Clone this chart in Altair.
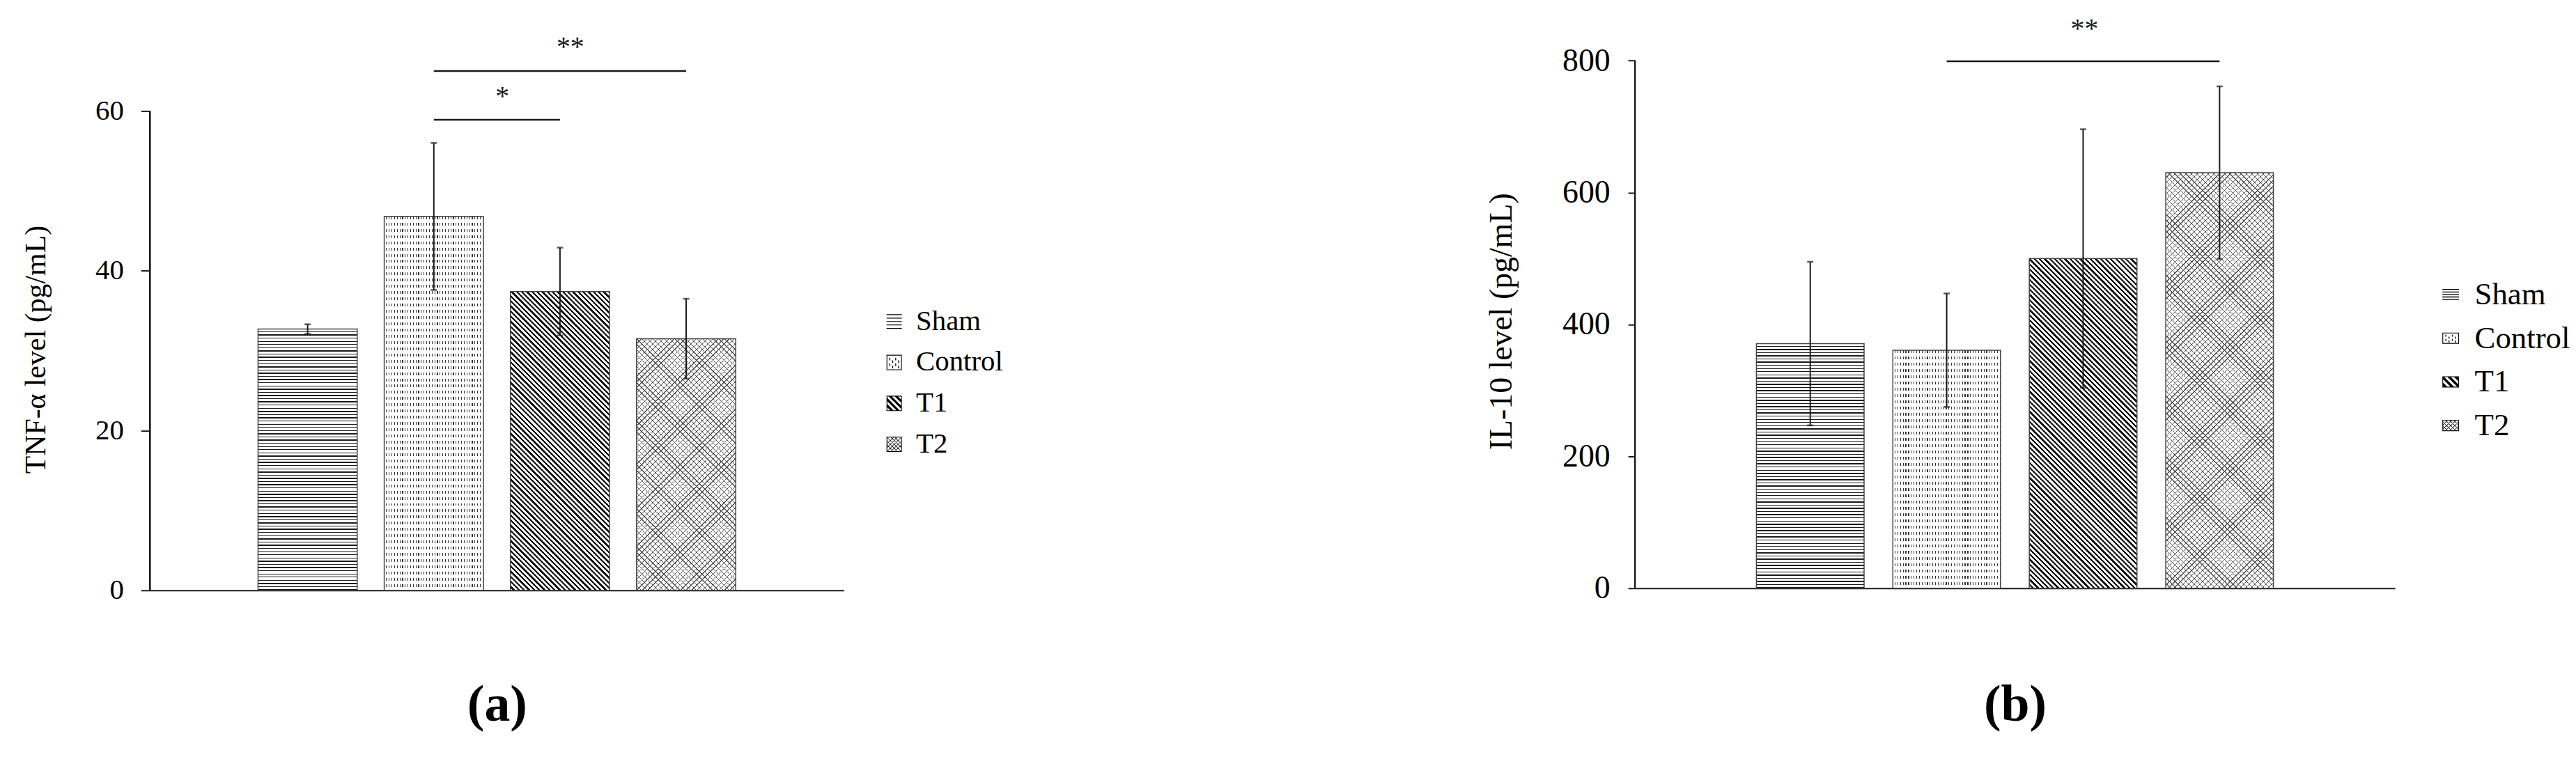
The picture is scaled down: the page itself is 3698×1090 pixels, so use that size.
import math
import altair as alt
import pandas as pd

# ---------------- data ----------------
groups = ["Sham", "Control", "T1", "T2"]

tnf_mean = [32.7, 46.8, 37.4, 31.5]
tnf_err = [0.6, 9.2, 5.5, 5.0]
tnf_ticks = [0, 20, 40, 60]
tnf_sig_label = ["*", "**"]
tnf_sig_from = ["Control", "Control"]
tnf_sig_to = ["T1", "T2"]
tnf_sig_y = [58.9, 65.0]
tnf_sig_text_y = [61.8, 68.0]

il10_mean = [371, 361, 500, 630]
il10_err = [124, 86, 196, 131]
il10_ticks = [0, 200, 400, 600, 800]
il10_sig_label = ["**"]
il10_sig_from = ["Control"]
il10_sig_to = ["T2"]
il10_sig_y = [799]
il10_sig_text_y = [848]

FONT = "Liberation Serif"
INK = "#1a1a1a"


# ---------------- pattern helpers ----------------
def stripe_stops(n, frac, dark, light):
    out = []
    for i in range(max(n, 1)):
        a = i / n
        b = (i + 1 - frac) / n
        c = (i + 1) / n
        out += [(a, light), (b, light), (b, dark), (c, dark)]
    return out


def grad(stops, x1, y1, x2, y2):
    return {
        "gradient": "linear",
        "x1": round(x1, 5), "y1": round(y1, 5), "x2": round(x2, 5), "y2": round(y2, 5),
        "stops": [{"offset": round(o, 5), "color": c} for o, c in stops],
    }


def hlines(h, period, frac, dark, light):
    return grad(stripe_stops(round(h / period), frac, dark, light), 0, 0, 0, 1)


def vlines(w, period, frac, dark, light):
    return grad(stripe_stops(round(w / period), frac, dark, light), 0, 0, 1, 0)


def backdiag(w, h, period, frac, dark, light):
    s = (w + h) / (w * w + h * h)
    n = round((w + h) / math.sqrt(2) / period)
    return grad(stripe_stops(n, frac, dark, light), 0, 1, s * w, 1 - s * h)


def fwddiag(w, h, period, frac, dark, light):
    s = (w + h) / (w * w + h * h)
    n = round((w + h) / math.sqrt(2) / period)
    return grad(stripe_stops(n, frac, dark, light), 0, 0, s * w, s * h)


CLEAR = "rgba(255,255,255,0)"


def bar_fills(g, w, h):
    if g == "Sham":
        return [hlines(h, 4.6, 0.3, INK, "white")]
    if g == "Control":
        return [vlines(w, 3.9, 0.3, "#333", "white"),
                hlines(h, 9.0, 5 / 9, "white", CLEAR)]
    if g == "T1":
        return [backdiag(w, h, 5.2, 0.45, "#111", "white")]
    return [backdiag(w, h, 5.6, 0.17, "#555", "white"),
            fwddiag(w, h, 5.6, 0.17, "#555", CLEAR)]


# ---------------- legend swatch paths ----------------
def fmt(v):
    return f"{v:.3f}".rstrip("0").rstrip(".")


def poly_path(pts):
    a = sum(pts[i][0] * pts[(i + 1) % len(pts)][1] - pts[(i + 1) % len(pts)][0] * pts[i][1]
            for i in range(len(pts)))
    if a < 0:
        pts = pts[::-1]
    return "M" + "L".join(f"{fmt(x)},{fmt(y)}" for x, y in pts) + "Z"


def clip(poly, xa, xb, ya, yb):
    def cut(pts, inside, inter):
        out = []
        for i in range(len(pts)):
            cur, prev = pts[i], pts[i - 1]
            if inside(cur):
                if not inside(prev):
                    out.append(inter(prev, cur))
                out.append(cur)
            elif inside(prev):
                out.append(inter(prev, cur))
        return out

    def ix(xv):
        return lambda p, q: (xv, p[1] + (q[1] - p[1]) * (xv - p[0]) / (q[0] - p[0]))

    def iy(yv):
        return lambda p, q: (p[0] + (q[0] - p[0]) * (yv - p[1]) / (q[1] - p[1]), yv)

    pts = poly
    for ins, inter in [(lambda p: p[0] >= xa, ix(xa)), (lambda p: p[0] <= xb, ix(xb)),
                       (lambda p: p[1] >= ya, iy(ya)), (lambda p: p[1] <= yb, iy(yb))]:
        pts = cut(pts, ins, inter)
        if not pts:
            return []
    return pts


def rect(x0, y0, x1, y1):
    return poly_path([(x0, y0), (x1, y0), (x1, y1), (x0, y1)])


def frame(hy, t):
    inner = f"M{fmt(-1 + t)},{fmt(-hy + t)}V{fmt(hy - t)}H{fmt(1 - t)}V{fmt(-hy + t)}Z"
    return rect(-1, -hy, 1, hy) + inner


def diag_stripes(kind, centers, hw, hy, t):
    out = ""
    for c in centers:
        c1, c2 = c - hw, c + hw
        if kind == "back":
            big = [(-5, -5 - c1), (5, 5 - c1), (5, 5 - c2), (-5, -5 - c2)]
        else:
            big = [(-5, c1 + 5), (5, c1 - 5), (5, c2 - 5), (-5, c2 + 5)]
        pts = clip(big, -1 + t, 1 - t, -hy + t, hy - t)
        if len(pts) >= 3:
            out += poly_path(pts)
    return out


def swatches(hy, t):
    sham = "".join(rect(-1, y * hy - 0.055, 1, y * hy + 0.055) for y in [-0.9, -0.45, 0, 0.45, 0.9])
    ctrl = frame(hy, t)
    for j, xc in enumerate([-0.58, -0.2, 0.2, 0.58]):
        rows = [-0.45, 0.3] if j % 2 == 0 else [-0.1, 0.6]
        for yc in rows:
            y0 = max(yc * hy - 0.17 * hy, -hy + t + 0.05)
            y1 = min(yc * hy + 0.17 * hy, hy - t - 0.05)
            ctrl += rect(xc - 0.06, y0, xc + 0.06, y1)
    t1 = frame(hy, t) + diag_stripes("back", [-1.2, -0.4, 0.4, 1.2], 0.21, hy, t)
    t2 = (frame(hy, t) + diag_stripes("back", [-1.0, -0.5, 0, 0.5, 1.0], 0.045, hy, t)
          + diag_stripes("fwd", [-1.0, -0.5, 0, 0.5, 1.0], 0.045, hy, t))
    return [sham, ctrl, t1, t2]


# ---------------- panel builder ----------------
def panel(p):
    df = pd.DataFrame({"group": groups, "value": p["mean"], "err": p["err"]})
    df["lo"] = df["value"] - df["err"]
    df["hi"] = df["value"] + df["err"]
    sig = pd.DataFrame({"label": p["sig_label"], "from": p["sig_from"], "to": p["sig_to"],
                        "y": p["sig_y"], "ty": p["sig_text_y"]})

    xscale = alt.Scale(domain=groups, paddingInner=p["pi"], paddingOuter=p["po"])
    yscale = alt.Scale(domain=[0, p["ymax"]], nice=False, zero=True)
    xaxis = alt.Axis(title=p["xtitle"], labels=False, ticks=False, domain=True,
                     domainColor=INK, domainWidth=2, titleFont=FONT,
                     titleFontSize=p["xtitle_size"], titleFontWeight="bold",
                     titleColor="black", titlePadding=p["xtitle_pad"])
    yaxis = alt.Axis(title=p["ytitle"], values=p["ticks"], domain=False, grid=False,
                     tickSize=p["tick_size"], tickColor=INK, tickWidth=2,
                     labelFont=FONT, labelFontSize=p["label_size"], labelColor="black",
                     labelPadding=p["label_pad"], titleFont=FONT,
                     titleFontSize=p["title_size"], titleFontWeight="normal",
                     titleColor="black", titleAngle=270, titleAlign="center",
                     titleBaseline="bottom", titleX=p["title_x"], titleY=p["title_y"])

    def X(f):
        return alt.X(f, type="nominal", scale=xscale, axis=xaxis)

    def Y(f):
        return alt.Y(f, type="quantitative", scale=yscale, axis=yaxis)

    step = p["width"] / (len(groups) - p["pi"] + 2 * p["po"])
    bw = step * (1 - p["pi"])
    ppu = p["height"] / p["ymax"]

    layers = []
    for g, v in zip(groups, p["mean"]):
        for fill in bar_fills(g, bw, v * ppu):
            layers.append(
                alt.Chart(df).transform_filter(alt.datum.group == g)
                .mark_bar(fill=fill, strokeWidth=0)
                .encode(x=X("group"), y=Y("value"))
            )
    layers.append(alt.Chart(df).mark_bar(fillOpacity=0, stroke="#444", strokeWidth=1.5)
                  .encode(x=X("group"), y=Y("value")))
    # error bars
    layers.append(alt.Chart(df).mark_rule(color=INK, strokeWidth=2)
                  .encode(x=X("group"), y=Y("lo"), y2="hi"))
    for f in ["lo", "hi"]:
        layers.append(alt.Chart(df).mark_tick(color=INK, orient="horizontal", size=9, thickness=2.5)
                      .encode(x=X("group"), y=Y(f)))
    # y axis line from 0 to the top tick
    layers.append(alt.Chart(df).mark_rule(color=INK, strokeWidth=2)
                  .encode(x=alt.value(0), y=alt.Y(datum=0, scale=yscale, axis=yaxis),
                          y2=alt.datum(p["ticks"][-1])))
    # significance bars
    layers.append(alt.Chart(sig).mark_rule(color=INK, strokeWidth=2.5)
                  .encode(x=X("from"), x2="to", y=Y("y")))
    for i in range(len(sig)):
        gap = groups.index(p["sig_to"][i]) - groups.index(p["sig_from"][i])
        dx = gap * step / 2 + p["sig_nudge"][i]
        layers.append(alt.Chart(sig.iloc[[i]]).mark_text(font=FONT, fontSize=40, color=INK,
                                                         dx=dx, baseline="middle", align="center")
                      .encode(x=X("from"), y=Y("ty"), text="label:N"))
    # invisible points carrying the legend
    layers.append(
        alt.Chart(df).mark_point(filled=True, opacity=0, size=p["sym_size"], color="black")
        .encode(x=X("group"), y=Y("value"),
                shape=alt.Shape("group:N", scale=alt.Scale(domain=groups, range=p["paths"]),
                                legend=alt.Legend(orient="none", legendX=p["leg_x"], legendY=p["leg_y"],
                                                  title=None, padding=0, labelFont=FONT,
                                                  labelFontSize=p["leg_size"], labelColor="black",
                                                  labelOffset=p["leg_off"], labelLimit=600,
                                                  rowPadding=p["leg_row"], symbolSize=p["sym_size"],
                                                  symbolFillColor="black", symbolStrokeWidth=0,
                                                  symbolOpacity=1)))
    )
    return alt.layer(*layers).properties(width=p["width"], height=p["height"])


pa = panel(dict(
    mean=tnf_mean, err=tnf_err, ticks=tnf_ticks,
    sig_label=tnf_sig_label, sig_from=tnf_sig_from, sig_to=tnf_sig_to,
    sig_y=tnf_sig_y, sig_text_y=tnf_sig_text_y, sig_nudge=[8, 15],
    width=1000, height=841, ymax=841 / (691 / 60), pi=0.214, po=0.857,
    xtitle="(a)", xtitle_size=74, xtitle_pad=129,
    ytitle="TNF-α level (pg/mL)", title_size=42, title_x=-142, title_y=493.5,
    tick_size=13, label_size=41, label_pad=25,
    paths=swatches(1.0, 0.1), sym_size=484, leg_x=1052, leg_y=433,
    leg_size=41, leg_off=11, leg_row=17,
))

pb = panel(dict(
    mean=il10_mean, err=il10_err, ticks=il10_ticks,
    sig_label=il10_sig_label, sig_from=il10_sig_from, sig_to=il10_sig_to,
    sig_y=il10_sig_y, sig_text_y=il10_sig_text_y, sig_nudge=[2],
    width=1095, height=838, ymax=838 / (760.6 / 800), pi=0.211, po=0.89,
    xtitle="(b)", xtitle_size=74, xtitle_pad=132,
    ytitle="IL-10 level (pg/mL)", title_size=46, title_x=-168, title_y=453,
    tick_size=10, label_size=46, label_pad=26,
    paths=swatches(0.67, 0.09), sym_size=576, leg_x=1153, leg_y=392,
    leg_size=45, leg_off=12, leg_row=17,
))

chart = (
    alt.hconcat(pa, pb, spacing=1140, bounds="flush")
    .resolve_scale(x="independent", y="independent", shape="independent")
    .resolve_legend(shape="independent")
    .properties(padding={"left": 23, "top": 0, "right": 0, "bottom": 0})
    .configure(background="white", view=alt.ViewConfig(stroke=None))
)

chart.save("out.html", embed_options={"renderer": "svg", "actions": False})
